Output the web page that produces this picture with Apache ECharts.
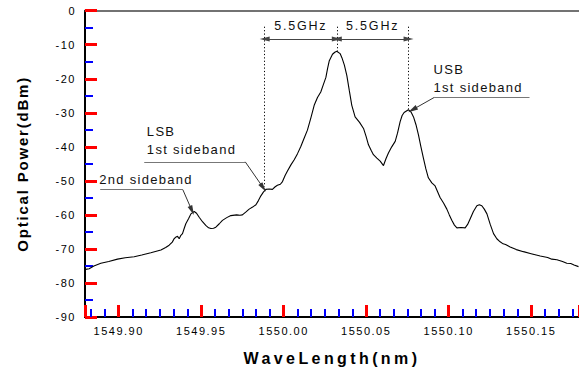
<!DOCTYPE html>
<html>
<head>
<meta charset="utf-8">
<script src="https://cdn.jsdelivr.net/npm/echarts@6/dist/echarts.min.js"></script>
<style>
html,body{margin:0;padding:0;background:#fff;}
#chart{width:579px;height:371px;}
#chart text[style*="11px"]{letter-spacing:1.5px;}
#chart text[style*="13px"]{letter-spacing:1.3px;}
#chart text[style*="12.5px"]{letter-spacing:1.8px;}
#chart text[style*="16px"]{letter-spacing:3.4px;}
#chart text[style*="15px"]{letter-spacing:1.8px;}
</style>
</head>
<body>
<div id="chart"></div>
<script>
// ---- data ----
const wavelength = [
1549.8800,1549.8821,1549.8850,1549.8892,1549.8940,1549.8993,1549.9040,1549.9094,1549.9140,1549.9195,
1549.9256,1549.9285,1549.9306,1549.9325,1549.9336,1549.9345,1549.9357,1549.9367,1549.9377,1549.9387,
1549.9397,1549.9407,1549.9425,1549.9438,1549.9458,1549.9472,1549.9488,1549.9508,1549.9528,1549.9545,
1549.9559,1549.9575,1549.9589,1549.9610,1549.9629,1549.9655,1549.9680,1549.9715,1549.9735,1549.9750,
1549.9770,1549.9791,1549.9812,1549.9832,1549.9847,1549.9862,1549.9877,1549.9892,1549.9912,1549.9932,
1549.9947,1549.9962,1549.9980,1549.9993,1550.0008,1550.0023,1550.0044,1550.0064,1550.0084,1550.0104,
1550.0124,1550.0144,1550.0165,1550.0185,1550.0205,1550.0225,1550.0240,1550.0256,1550.0266,1550.0276,
1550.0296,1550.0310,1550.0322,1550.0342,1550.0353,1550.0368,1550.0383,1550.0398,1550.0413,1550.0433,
1550.0460,1550.0484,1550.0500,1550.0514,1550.0530,1550.0544,1550.0565,1550.0585,1550.0605,1550.0620,
1550.0635,1550.0655,1550.0676,1550.0690,1550.0706,1550.0718,1550.0730,1550.0756,1550.0772,1550.0787,
1550.0802,1550.0817,1550.0832,1550.0847,1550.0862,1550.0877,1550.0898,1550.0918,1550.0933,1550.0948,
1550.0969,1550.0989,1550.1004,1550.1019,1550.1035,1550.1050,1550.1075,1550.1100,1550.1115,1550.1130,
1550.1150,1550.1171,1550.1186,1550.1201,1550.1216,1550.1232,1550.1252,1550.1272,1550.1292,1550.1312,
1550.1330,1550.1345,1550.1373,1550.1410,1550.1453,1550.1500,1550.1555,1550.1600,1550.1625,1550.1656,
1550.1690,1550.1716,1550.1740,1550.1760,1550.1787
];
const powerDbm = [
-76.0,-75.8,-75.0,-74.2,-73.7,-73.0,-72.6,-72.3,-71.8,-71.1,
-70.3,-69.6,-68.9,-68.0,-67.0,-66.6,-66.3,-67.0,-66.0,-65.5,
-64.0,-62.6,-61.0,-59.7,-59.0,-59.5,-60.7,-62.0,-63.1,-63.8,
-64.0,-63.9,-63.6,-62.6,-61.6,-60.8,-60.2,-60.0,-60.1,-60.0,
-59.2,-58.3,-57.7,-57.0,-55.8,-54.4,-53.3,-52.5,-52.4,-52.5,
-51.8,-51.3,-51.0,-50.2,-48.5,-47.1,-45.3,-43.8,-42.0,-39.9,
-37.5,-35.1,-31.5,-27.8,-25.5,-23.9,-21.8,-19.6,-17.0,-14.8,
-12.8,-12.2,-11.9,-12.6,-13.8,-16.0,-19.1,-23.5,-27.8,-31.2,
-32.8,-34.6,-37.0,-39.4,-41.0,-42.3,-43.3,-44.2,-45.5,-43.5,
-41.8,-40.0,-38.4,-36.0,-32.6,-30.8,-29.9,-29.1,-29.8,-31.2,
-33.5,-36.5,-40.0,-43.3,-46.5,-49.1,-50.6,-51.5,-53.2,-54.9,
-56.5,-58.3,-60.0,-61.6,-63.0,-63.8,-63.7,-63.8,-62.8,-61.2,
-59.0,-57.3,-57.0,-57.3,-58.3,-59.7,-62.8,-65.5,-67.0,-67.9,
-68.5,-68.7,-69.4,-70.2,-70.8,-71.4,-72.1,-72.5,-73.0,-73.2,
-73.7,-74.2,-74.3,-74.7,-75.2
];
// annotation anchors (data coordinates)
const sidebandX = [1549.9885, 1550.0322, 1550.0757];   // LSB, carrier, USB
const sidebandY = [-51.8, -11.9, -28.9];
const dottedTop = -4.7;
const arrowY = -8.3;
const ghzLabels = ['5.5GHz', '5.5GHz'];
const ghzLabelY = -4.4;
const notes = [
  {text: '2nd sideband', at: [1549.8882, -49.6], hLine: [1549.8888, 1549.9389, -52.6], tip: [1549.9444, -58.7]},
  {text: 'LSB\n1st sideband', at: [1549.9171, -38.2], hLine: [1549.9155, 1549.9767, -44.4], tip: [1549.9876, -52.0]},
  {text: 'USB\n1st sideband', at: [1550.0908, -19.8], hLine: [1550.0912, 1550.1490, -25.5], tip: [1550.0781, -29.1], fromLeft: true}
];

const chart = echarts.init(document.getElementById('chart'), null, {renderer: 'svg'});

const dotted = sidebandX.map((x, i) => [
  {coord: [x, dottedTop]}, {coord: [x, sidebandY[i]]}
]);
const arrows = [
  [{coord: [sidebandX[0], arrowY]}, {coord: [sidebandX[1], arrowY]}],
  [{coord: [sidebandX[1], arrowY]}, {coord: [sidebandX[2], arrowY]}]
];
const leaderH = notes.map(n => [{coord: [n.hLine[0], n.hLine[2]]}, {coord: [n.hLine[1], n.hLine[2]]}]);
const leaderD = notes.map(n => {
  const start = n.fromLeft ? n.hLine[0] : n.hLine[1];
  return [{coord: [start, n.hLine[2]]}, {coord: n.tip}];
});
const textPoints = notes.map(n => ({
  coord: n.at, label: {formatter: n.text}
}));
const ghzPoints = ghzLabels.map((t, i) => ({
  coord: [(sidebandX[i] + sidebandX[i + 1]) / 2, ghzLabelY],
  label: {formatter: t}
}));

const font = 'Liberation Sans, Arial, sans-serif';

chart.setOption({
  animation: false,
  backgroundColor: '#fff',
  grid: {left: 85, right: 0, top: 10.7, bottom: 50.3, containLabel: false},
  xAxis: [{
    type: 'value',
    min: 1549.8796, max: 1550.179,
    position: 'bottom',
    name: 'WaveLength(nm)', nameLocation: 'middle', nameGap: 33,
    nameTextStyle: {fontFamily: font, fontWeight: 'bold', fontSize: 16, color: '#000'},
    axisLine: {show: true, onZero: false, lineStyle: {color: '#000', width: 2}},
    axisTick: {show: true, inside: true, length: 12, lineStyle: {color: 'red', width: 3}},
    minorTick: {show: true, splitNumber: 6, length: 8, lineStyle: {color: 'blue', width: 2}},
    axisLabel: {showMinLabel: false, showMaxLabel: false, margin: 8, fontFamily: font, fontSize: 11, color: '#000',
      formatter: v => v.toFixed(2)},
    splitLine: {show: false}
  }, {
    type: 'value', min: 1549.8796, max: 1550.179, position: 'top',
    axisLine: {show: true, onZero: false, lineStyle: {color: '#444', width: 1.5}},
    axisTick: {show: false}, minorTick: {show: false}, axisLabel: {show: false}, splitLine: {show: false}
  }],
  yAxis: {
    type: 'value', min: -90, max: 0, interval: 10,
    name: 'Optical Power(dBm)', nameLocation: 'middle', nameGap: 55, nameRotate: 90,
    nameTextStyle: {fontFamily: font, fontWeight: 'bold', fontSize: 15, color: '#000'},
    axisLine: {show: true, onZero: false, lineStyle: {color: '#000', width: 2}},
    axisTick: {show: true, inside: true, length: 12, lineStyle: {color: 'red', width: 3}},
    minorTick: {show: true, splitNumber: 2, length: 8, lineStyle: {color: 'blue', width: 2}},
    axisLabel: {margin: 9, fontFamily: font, fontSize: 11, color: '#000'},
    splitLine: {show: false}
  },
  series: [{
    type: 'line',
    data: wavelength.map((x, i) => [x, powerDbm[i]]),
    showSymbol: false, symbol: 'none',
    lineStyle: {color: '#000', width: 1.1},
    silent: true
  }, {
    type: 'line', data: [], silent: true,
    markLine: {silent: true, symbol: 'none', label: {show: false},
      lineStyle: {type: [1.2, 2.2], color: '#000', width: 1}, data: dotted}
  }, {
    type: 'line', data: [], silent: true,
    markLine: {silent: true, symbol: ['triangle', 'triangle'], symbolSize: [5, 10], label: {show: false},
      itemStyle: {color: '#000'},
      lineStyle: {type: 'solid', color: '#444', width: 1.2}, data: arrows}
  }, {
    type: 'line', data: [], silent: true,
    markLine: {silent: true, symbol: 'none', label: {show: false},
      lineStyle: {type: 'solid', color: '#777', width: 1.2}, data: leaderH}
  }, {
    type: 'line', data: [], silent: true,
    markLine: {silent: true, symbol: ['none', 'triangle'], symbolSize: [5, 10], label: {show: false},
      itemStyle: {color: '#000'},
      lineStyle: {type: 'solid', color: '#333', width: 1}, data: leaderD}
  }, {
    type: 'line', data: [], silent: true,
    markPoint: {silent: true, symbol: 'circle', symbolSize: 0,
      label: {show: true, position: 'right', distance: 0, align: 'left', verticalAlign: 'middle',
        fontFamily: font, fontSize: 13, color: '#111', lineHeight: 18},
      data: textPoints}
  }, {
    type: 'line', data: [], silent: true,
    markPoint: {silent: true, symbol: 'circle', symbolSize: 0,
      label: {show: true, position: 'inside', align: 'center', verticalAlign: 'middle',
        fontFamily: font, fontSize: 12.5, color: '#111'},
      data: ghzPoints}
  }]
});
</script>
</body>
</html>
